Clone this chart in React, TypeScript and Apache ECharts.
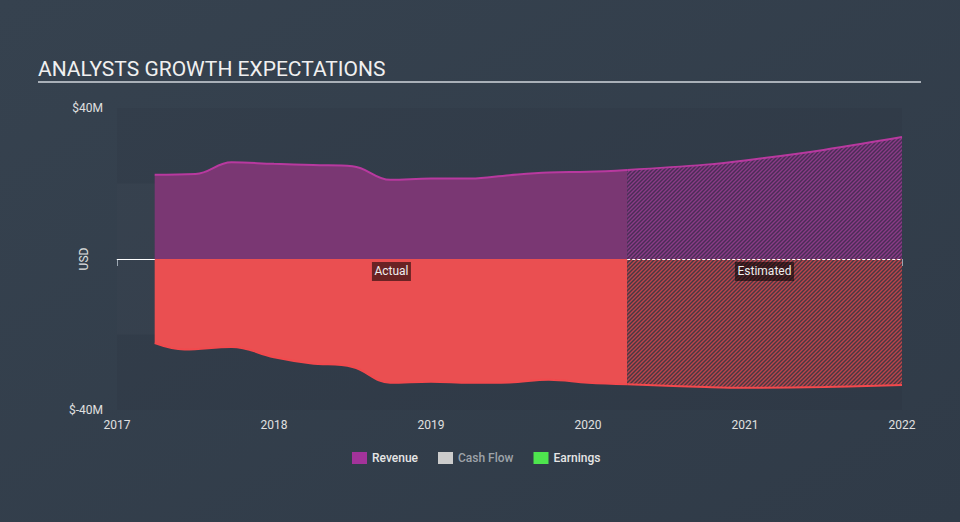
import React, { useEffect, useRef } from "react";
import * as echarts from "echarts";

const titleText = "ANALYSTS GROWTH EXPECTATIONS";
const yearTicks = [2017, 2018, 2019, 2020, 2021, 2022];
const yMin = -40;
const yMax = 40;
const legendNames = ["Revenue", "Cash Flow", "Earnings"];

const revenueActual: [number, number][] = [
  [2017.24, 22.3], [2017.5, 22.5], [2017.73, 25.6], [2018.0, 25.2], [2018.25, 24.9],
  [2018.5, 24.6], [2018.74, 21.0], [2019.0, 21.3], [2019.25, 21.3], [2019.5, 22.2],
  [2019.75, 22.9], [2020.0, 23.1], [2020.25, 23.6],
];
const revenueEstimated: [number, number][] = [
  [2020.25, 23.6], [2020.75, 25.0], [2021.0, 26.1], [2021.5, 28.9], [2022.0, 32.3],
];
const earningsActual: [number, number][] = [
  [2017.24, -22.3], [2017.43, -24.0], [2017.73, -23.3], [2018.0, -26.0], [2018.23, -27.6],
  [2018.5, -28.6], [2018.74, -32.8], [2019.0, -32.5], [2019.25, -32.8], [2019.5, -32.7],
  [2019.75, -32.0], [2020.0, -32.8], [2020.25, -33.2],
];
const earningsEstimated: [number, number][] = [
  [2020.25, -33.2], [2020.75, -33.9], [2021.0, -34.1], [2021.5, -33.9], [2022.0, -33.4],
];
const actualLabel = { text: "Actual", x: 2018.748, y: -3.3 };
const estimatedLabel = { text: "Estimated", x: 2021.124, y: -3.3 };
const bandRange = [-20, 20];

function hatch(bg: string, fg: string) {
  const c = document.createElement("canvas");
  c.width = 4;
  c.height = 4;
  const ctx = c.getContext("2d")!;
  ctx.fillStyle = bg;
  ctx.fillRect(0, 0, 4, 4);
  ctx.strokeStyle = fg;
  ctx.lineWidth = 1.4;
  ctx.beginPath();
  ctx.moveTo(0, 4); ctx.lineTo(4, 0);
  ctx.moveTo(-1, 1); ctx.lineTo(1, -1);
  ctx.moveTo(3, 5); ctx.lineTo(5, 3);
  ctx.stroke();
  return c;
}

export default function App() {
  const ref = useRef<HTMLDivElement>(null);
  useEffect(() => {
    document.body.style.margin = "0";
    const chart = echarts.init(ref.current!, null, { renderer: "svg" });
    const font = "Roboto, 'Noto Sans', sans-serif";
    const purple = "#7a3773";
    const purpleLine = "#b8399f";
    const red = "#ea4f51";
    const redLine = "#f2494d";
    const boxLabel = (l: { text: string; x: number; y: number }, w: number) => ({
      coord: [l.x, l.y],
      symbol: "rect",
      symbolSize: [w, 19],
      itemStyle: { color: "rgba(0,0,0,0.55)" },
      label: { show: true, position: "inside", formatter: l.text, color: "#eeeeee", fontSize: 12, fontFamily: font },
    });
    chart.setOption({
      animation: false,
      backgroundColor: {
        type: "linear", x: 0, y: 0, x2: 1, y2: 1,
        colorStops: [{ offset: 0, color: "#36424f" }, { offset: 1, color: "#303b48" }],
      },
      title: {
        text: titleText, left: 38, top: 58, padding: 0,
        textStyle: { color: "#f0f0f0", fontSize: 21, fontWeight: "normal", fontFamily: font },
      },
      graphic: [
        { type: "line", shape: { x1: 38, y1: 82, x2: 921, y2: 82 }, style: { stroke: "#a9b0b8", lineWidth: 2 } },
      ],
      legend: {
        data: [
          { name: legendNames[0], textStyle: { color: "#e6e6e6" } },
          { name: legendNames[1], textStyle: { color: "#9ea3a9" } },
          { name: legendNames[2], textStyle: { color: "#e6e6e6" } },
        ],
        left: 347, top: 447, icon: "rect", itemWidth: 15, itemHeight: 12, itemGap: 20,
        textStyle: { fontSize: 12, fontFamily: font, fontWeight: 500 },
        selectedMode: false,
      },
      grid: {
        left: 117, right: 58, top: 108, bottom: 112, show: true,
        backgroundColor: "rgba(0,0,0,0.035)", borderWidth: 0,
      },
      xAxis: {
        type: "value", min: yearTicks[0], max: yearTicks[yearTicks.length - 1], interval: 1,
        axisLine: { lineStyle: { color: "#9aa5b1", width: 1 } },
        axisTick: { length: 7, lineStyle: { color: "#9aa5b1" } },
        axisLabel: { color: "#e0e0e0", fontSize: 12, fontFamily: font, margin: 9, formatter: (v: number) => String(v) },
        splitLine: { show: false },
      },
      yAxis: {
        type: "value", min: yMin, max: yMax, interval: 80,
        name: "USD", nameLocation: "middle", nameGap: 27, nameMoveOverlap: false,
        nameTextStyle: { color: "#e0e0e0", fontSize: 12, fontFamily: font },
        axisLine: { show: false }, axisTick: { show: false },
        axisLabel: { color: "#e0e0e0", fontSize: 12, fontFamily: font, margin: 14, formatter: (v: number) => "$" + v + "M" },
        splitLine: { show: false },
      },
      series: [
        {
          name: "Cash Flow", type: "line", data: [], color: "#cccccc",
          markArea: {
            silent: true,
            itemStyle: { color: "rgba(255,255,255,0.025)" },
            data: [[{ coord: [yearTicks[0], bandRange[0]] }, { coord: [yearTicks[yearTicks.length - 1], bandRange[1]] }]],
          },
        },
        {
          name: "Revenue", type: "line", data: revenueActual, smooth: 0.4, showSymbol: false, color: "#a3339a",
          lineStyle: { color: purpleLine, width: 2 }, areaStyle: { color: purple, opacity: 1 }, z: 2,
        },
        {
          name: "Revenue", type: "line", data: revenueEstimated, smooth: 0.4, showSymbol: false, color: "#a3339a",
          lineStyle: { color: purpleLine, width: 2 },
          areaStyle: { color: { image: hatch("#4a2d56", "#8a3b86"), repeat: "repeat" }, opacity: 1 }, z: 2,
        },
        {
          name: "Earnings", type: "line", data: earningsActual, smooth: 0.4, showSymbol: false, color: "#4ee54e",
          lineStyle: { color: redLine, width: 2 }, areaStyle: { color: red, opacity: 1 }, z: 2,
          markPoint: { silent: true, data: [boxLabel(actualLabel, 39)] },
        },
        {
          name: "Earnings", type: "line", data: earningsEstimated, smooth: 0.4, showSymbol: false, color: "#4ee54e",
          lineStyle: { color: redLine, width: 2 },
          areaStyle: { color: { image: hatch("#473842", "#bb444b"), repeat: "repeat" }, opacity: 1 }, z: 2,
          markLine: {
            silent: true, symbol: "none", label: { show: false },
            lineStyle: { color: "#ffffff", width: 1, type: [3, 2] },
            data: [
              [{ coord: [revenueEstimated[0][0], 0] }, { coord: [yearTicks[yearTicks.length - 1], 0] }],
              [{ coord: [yearTicks[0], 0], lineStyle: { type: "solid", color: "#ffffff", width: 1 } }, { coord: [revenueActual[0][0], 0] }],
            ],
          },
          markPoint: { silent: true, data: [boxLabel(estimatedLabel, 59)] },
        },
      ],
    });
    return () => chart.dispose();
  }, []);
  return <div ref={ref} style={{ width: 960, height: 522 }} />;
}
